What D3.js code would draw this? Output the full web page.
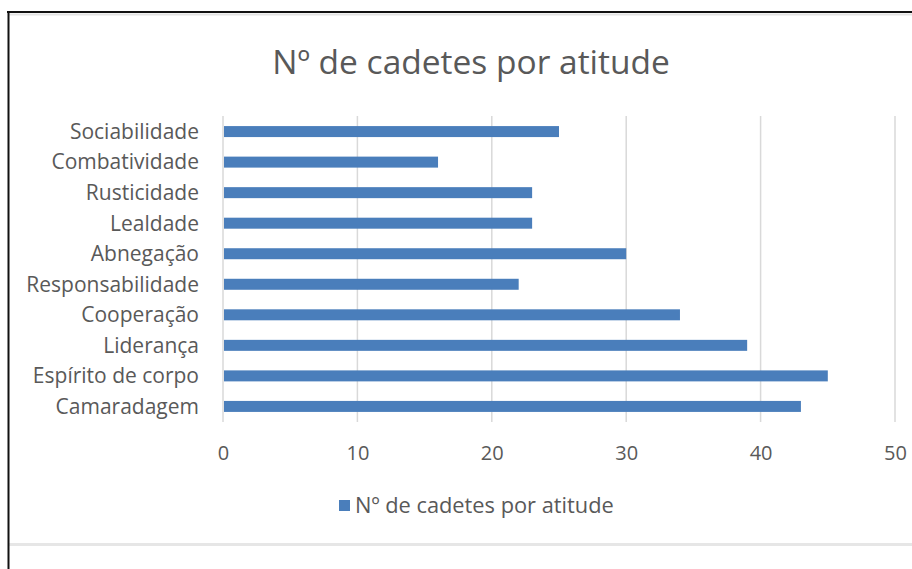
<!DOCTYPE html>
<html>
<head>
<meta charset="utf-8">
<script src="https://cdn.jsdelivr.net/npm/d3@7"></script>
<style>
  body { margin: 0; background: #fff; }
  svg { display: block; }
  text { font-family: "Open Sans", sans-serif; fill: #595959; }
</style>
</head>
<body>
<div id="chartArea"></div>
<script>
    // Data

    const categories = ["Sociabilidade", "Combatividade", "Rusticidade", "Lealdade", "Abnegação",
        "Responsabilidade", "Cooperação", "Liderança", "Espírito de corpo", "Camaradagem"];
    const values = [25, 16, 23, 23, 30, 22, 34, 39, 45, 43];
    const ticks = [0, 10, 20, 30, 40, 50];
    const seriesName = "Nº de cadetes por atitude";

    // Dimensions

    const width = 912,
        height = 569,
        plot = { left: 223, right: 895, top: 116, bottom: 422 };

    const svg = d3.select("#chartArea")
        .append("svg")
        .attr("width", width)
        .attr("height", height);

    // Frame

    svg.append("line")
        .attr("x1", 8).attr("x2", width).attr("y1", 14.5).attr("y2", 14.5)
        .attr("stroke", "#e3e3e3").attr("stroke-width", 2);
    svg.append("line")
        .attr("x1", 8).attr("x2", width).attr("y1", 544.5).attr("y2", 544.5)
        .attr("stroke", "#e6e6e6").attr("stroke-width", 3);
    svg.append("line")
        .attr("x1", 7).attr("x2", width).attr("y1", 12).attr("y2", 12)
        .attr("stroke", "#111").attr("stroke-width", 2);
    svg.append("line")
        .attr("x1", 8.5).attr("x2", 8.5).attr("y1", 11).attr("y2", height)
        .attr("stroke", "#111").attr("stroke-width", 2);

    // Scales

    const x = d3.scaleLinear()
        .domain([0, 50])
        .range([plot.left, plot.right]);

    const y = d3.scaleBand()
        .domain(categories)
        .range([plot.top, plot.bottom])
        .paddingInner(0.64)
        .paddingOuter(0.33);

    // Title

    svg.append("text")
        .attr("x", 471)
        .attr("y", 62)
        .attr("dy", "0.35em")
        .attr("text-anchor", "middle")
        .style("font-size", "33.5px")
        .text(seriesName);

    // Gridlines

    svg.append("g")
        .selectAll("line")
        .data(ticks)
        .join("line")
        .attr("x1", d => x(d))
        .attr("x2", d => x(d))
        .attr("y1", plot.top)
        .attr("y2", plot.bottom)
        .attr("stroke", "#d9d9d9")
        .attr("stroke-width", 1.5);

    // Bars

    svg.append("g")
        .selectAll("rect")
        .data(categories)
        .join("rect")
        .attr("x", x(0) + 1)
        .attr("y", d => y(d))
        .attr("width", (d, i) => x(values[i]) - x(0) - 1)
        .attr("height", y.bandwidth())
        .attr("fill", "#4a7ebb");

    // Axes

    const xAxis = svg.append("g")
        .attr("transform", `translate(0, 453)`)
        .call(d3.axisBottom(x).tickValues(ticks).tickSize(0).tickPadding(0));
    xAxis.select(".domain").remove();
    xAxis.selectAll("text")
        .attr("dy", "0.35em")
        .style("font-size", "20px")
        .style("fill", "#595959");

    const yAxis = svg.append("g")
        .attr("transform", `translate(199, 0)`)
        .call(d3.axisLeft(y).tickSize(0).tickPadding(0));
    yAxis.select(".domain").remove();
    yAxis.selectAll("text")
        .attr("dy", "0.35em")
        .style("font-size", "21px")
        .style("fill", "#595959");

    // Legend

    const legend = svg.append("g").attr("id", "legend");
    legend.append("rect")
        .attr("x", 339)
        .attr("y", 500)
        .attr("width", 11)
        .attr("height", 11)
        .attr("fill", "#4a7ebb");
    legend.append("text")
        .attr("x", 355)
        .attr("y", 505.5)
        .attr("dy", "0.35em")
        .style("font-size", "21.8px")
        .text(seriesName);
</script>
</body>
</html>
